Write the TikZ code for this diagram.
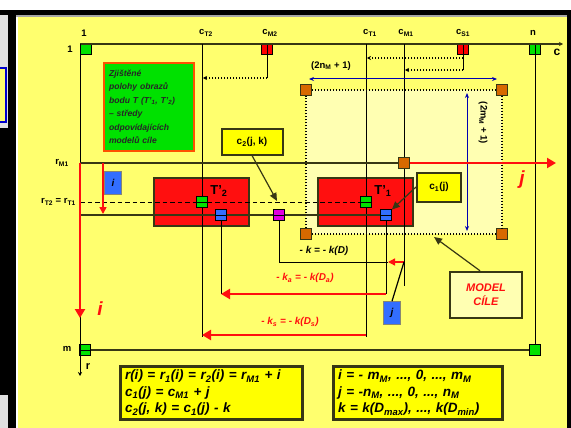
\documentclass[tikz,border=0pt]{standalone}
\usepackage{fontspec}
\setmainfont{Liberation Sans}
\usetikzlibrary{arrows.meta}
\definecolor{panel}{RGB}{255,255,110}
\definecolor{pale}{RGB}{255,255,178}
\definecolor{boxyel}{RGB}{255,255,0}
\definecolor{dark}{RGB}{55,55,20}
\definecolor{grn}{RGB}{0,225,0}
\definecolor{blu}{RGB}{50,110,255}
\definecolor{org}{RGB}{215,105,0}
\definecolor{mag}{RGB}{225,0,225}
\definecolor{redc}{RGB}{255,15,15}
\definecolor{rim}{RGB}{255,80,0}
\begin{document}
\begin{tikzpicture}[x=1pt,y=-1pt,
  axis/.style={line width=1.7pt,draw=dark},
  gridline/.style={line width=.9pt,draw=black},
  dashline/.style={line width=1pt,dash pattern=on 4.5pt off 3pt},
  dotline/.style={line width=1.1pt,dash pattern=on 1.2pt off 1.8pt},
  dotarrow/.style={dotline,-{Stealth[length=4pt,width=4pt]}},
  bluearrow/.style={line width=1pt,draw=blue!70!black,{Stealth[length=5pt,width=4pt]}-{Stealth[length=5pt,width=4pt]}},
  redarrow/.style={line width=2.6pt,draw=redc,-{Triangle[length=9pt,width=10pt]}},
  pointer/.style={line width=1.2pt,draw=dark,-{Triangle[length=8pt,width=7pt]}},
  cell/.style={draw=black,line width=.7pt,minimum size=11pt,inner sep=0pt},
  okcell/.style={cell,fill=grn},
  vcell/.style={path picture={\draw[line width=.7pt] (path picture bounding box.north) -- (path picture bounding box.south);}},
  hcell/.style={path picture={\draw[line width=.7pt] (path picture bounding box.west) -- (path picture bounding box.east);}},
  gcell/.style={vcell,hcell},
  cornercell/.style={cell,fill=org,draw=dark},
  target/.style={draw=dark,fill=redc,line width=1.3pt,minimum width=95pt,minimum height=48pt},
  lbl/.style={font=\bfseries\fontsize{9.5}{11}\selectfont,inner sep=1pt},
  redlbl/.style={text=redc,font=\bfseries\itshape\fontsize{10}{12}\selectfont,inner sep=1pt},
  bigred/.style={text=redc,font=\bfseries\itshape\fontsize{19}{20}\selectfont,inner sep=0pt},
  tag/.style={draw=dark,fill=boxyel,line width=2pt,inner sep=2pt,
    font=\bfseries\fontsize{10}{12}\selectfont},
  bluetag/.style={draw=dark!60,fill=blu,line width=.6pt,minimum width=17pt,minimum height=23pt,
    inner sep=0pt,font=\bfseries\itshape\fontsize{10}{12}\selectfont},
  formula/.style={draw=dark,fill=boxyel,line width=3pt,align=left,inner xsep=5pt,inner ysep=4pt,
    font=\bfseries\itshape\fontsize{13.5}{16.5}\selectfont}]
\useasboundingbox (0,0) rectangle (571,428);
\fill[white] (0,0) rectangle (571,428);
\fill[black!12] (0,12) rectangle (8,428);
\fill[black] (0,128) rectangle (8,395);
\fill[black] (8,12) rectangle (16,428);
\fill[panel,draw=blue!80!black,line width=1.2pt] (-3,68) rectangle (6,122);
\fill[black] (0,10) rectangle (571,15);
\fill[black!35] (16,15) rectangle (571,17);
\fill[panel] (18,17) rectangle (567,428);
\fill[black] (567,12) rectangle (571,428);

\node[okcell] (q11) at (86,49) {};
\node[cell,fill=red,vcell] (qM2) at (267,49) {};
\node[cell,fill=red,vcell] (qS1) at (463,49) {};
\node[okcell,vcell] (q1n) at (535,49) {};
\node[okcell,hcell] (qm1) at (85,350) {};
\node[okcell] (qmn) at (535,350) {};

\fill[pale] (306,90) rectangle (502,234);
\node[cornercell] (qTL) at (306,90) {};
\node[cornercell] (qTR) at (502,90) {};
\node[cornercell] (qBL) at (306,234) {};
\node[cornercell] (qBR) at (502,234) {};
\draw[dotline] (qTL) -- (qTR);
\draw[dotline] (qTR) -- (qBR);
\draw[dotline] (qBR) -- (qBL);
\draw[dotline] (qBL) -- (qTL);

\node[target] (T2box) at (201.5,202) {};
\node[target] (T1box) at (365.5,202) {};

\node[cornercell] (qM1) at (404,163) {};
\node[okcell,hcell] (qT2) at (202,202) {};
\node[okcell,hcell] (qT1) at (366,202) {};
\node[cell,fill=blu,gcell] (qB2) at (221,215) {};
\node[cell,fill=blu,gcell] (qB1) at (386,215) {};
\node[cell,fill=mag,gcell] (qk) at (279,215) {};

\node[lbl] (n1c) at (84,33) {1};
\node[lbl] (n1r) at (70,49) {1};
\node[lbl] (ncT2) at (206,33) {c\textsubscript{T2}};
\node[lbl] (ncM2) at (270,33) {c\textsubscript{M2}};
\node[lbl] (ncT1) at (370,33) {c\textsubscript{T1}};
\node[lbl] (ncM1) at (406,33) {c\textsubscript{M1}};
\node[lbl] (ncS1) at (463,33) {c\textsubscript{S1}};
\node[lbl] (nn) at (533,33) {n};
\node[lbl,font=\bfseries\fontsize{12}{12}\selectfont] (nc) at (557,52) {c};
\node[lbl] (nrM1) at (62,163) {r\textsubscript{M1}};
\node[lbl,anchor=east] (nrT) at (77,202) {r\textsubscript{T2} = r\textsubscript{T1}};
\node[lbl] (nm) at (67,349) {m};
\node[lbl,font=\bfseries\fontsize{11}{12}\selectfont] (nr) at (88,367) {r};
\node[lbl,font=\bfseries\fontsize{13}{14}\selectfont] (nT2) at (219,191) {T'\textsubscript{2}};
\node[lbl,font=\bfseries\fontsize{13}{14}\selectfont] (nT1) at (383,191) {T'\textsubscript{1}};

\coordinate (o) at (80,44);
\coordinate (cEnd) at (563,44);
\coordinate (rEnd) at (80,376);
\draw[axis,-{Stealth[length=4pt,width=4pt]}] (o) -- (cEnd);
\draw[gridline,-{Stealth[length=4pt,width=4pt]}] (o) -- (rEnd);
\draw[gridline] (q1n) -- (qmn);
\draw[axis] (qm1) -- (qmn);

\coordinate (cT2top) at (202,44);
\coordinate (cT2bot) at (202,337);
\coordinate (cT1top) at (366,44);
\coordinate (cT1bot) at (366,337);
\coordinate (cM1top) at (404,44);
\coordinate (cM1bot) at (404,286);
\draw[gridline] (cT2top) -- (qT2);
\draw[gridline] (qT2) -- (cT2bot);
\draw[gridline] (cT1top) -- (qT1);
\draw[gridline] (qT1) -- (cT1bot);
\draw[gridline] (cM1top) -- (qM1);
\draw[gridline] (qM1) -- (cM1bot);

\coordinate (cM2b) at (267,78);
\coordinate (cT2m) at (203,78);
\draw[gridline] (qM2) -- (cM2b);
\draw[dotarrow] (cM2b) -- (cT2m);
\coordinate (cS1a) at (463,58);
\coordinate (cT1m) at (367,58);
\coordinate (cS1b) at (463,70);
\coordinate (cM1m) at (405,70);
\draw[gridline] (qS1) -- (cS1b);
\draw[dotarrow] (cS1a) -- (cT1m);
\draw[dotarrow] (cS1b) -- (cM1m);

\coordinate (nL) at (309,79);
\coordinate (nR) at (497,79);
\draw[bluearrow] (nL) -- (nR);
\node[lbl] (nlab) at (331,66) {(2n\textsubscript{M} + 1)};
\coordinate (mT) at (467,93);
\coordinate (mB) at (467,231);
\draw[bluearrow] (mT) -- (mB);
\node[lbl,rotate=-90] (mlab) at (483,123) {(2m\textsubscript{M} + 1)};

\coordinate (rM1) at (80,163);
\coordinate (rT) at (80,202);
\coordinate (r2) at (80,215);
\draw[axis] (rM1) -- (qM1);
\draw[dashline] (rT) -- (qT2);
\draw[dashline] (qT2) -- (qT1);
\draw[axis] (r2) -- (qB2);
\draw[axis] (qB2) -- (qk);
\draw[axis] (qk) -- (qB1);

\coordinate (iEnd) at (80,318);
\draw[redarrow] (rM1) -- (iEnd);
\node[bigred] (ilab) at (100,309) {i};
\coordinate (iTop) at (103,163);
\coordinate (iBot) at (103,214);
\draw[redarrow,line width=1.6pt,-{Triangle[length=7pt,width=7pt]}] (iTop) -- (iBot);
\node[bluetag] (itag) at (113,183) {i};
\coordinate (jEnd) at (556,163);
\draw[redarrow] (qM1) -- (jEnd);
\node[bigred] (jlab) at (522,180) {j};

\coordinate (b2bot) at (221,294);
\coordinate (b1bot) at (386,294);
\draw[gridline] (qB2) -- (b2bot);
\draw[gridline] (qB1) -- (b1bot);
\draw[redarrow] (b1bot) -- (b2bot);
\node[redlbl] (kalab) at (305,278) {- k\textsubscript{a} = - k(D\textsubscript{a})};
\coordinate (ksR) at (366,335);
\coordinate (ksL) at (202,335);
\draw[redarrow] (ksR) -- (ksL);
\node[redlbl] (kslab) at (290,322) {- k\textsubscript{s} = - k(D\textsubscript{s})};

\coordinate (kEnd) at (388,262);
\coordinate (kR) at (404,262);
\draw[gridline] (qk) |- (kEnd);
\draw[line width=1.4pt,draw=redc,-{Triangle[length=7pt,width=7pt]}] (kR) -- (kEnd);
\node[lbl,font=\bfseries\itshape\fontsize{10}{12}\selectfont] (klab) at (324,251) {- k = - k(D)};
\node[bluetag] (jtag) at (392,313) {j};
\draw[line width=1.2pt] (jtag.north) -- (kR);

\node[tag,minimum width=61pt,minimum height=25pt] (c2tag) at (252,142) {c\textsubscript{2}(j, k)};
\coordinate (kPt) at (277,201);
\draw[pointer] (c2tag.south) -- (kPt);
\node[tag,minimum width=44pt,minimum height=29pt] (c1tag) at (439,187) {c\textsubscript{1}(j)};
\draw[pointer] (c1tag.west) -- (qB1);

\node[draw=dark,fill=pale,line width=2.5pt,minimum width=72pt,minimum height=46pt,align=center,
  text=redc,font=\bfseries\itshape\fontsize{11}{14}\selectfont] (model) at (486,295) {MODEL\\CÍLE};
\coordinate (mPt) at (434,237);
\draw[pointer] ([xshift=-6pt]model.north) -- (mPt);

\node[draw=rim,fill=grn,line width=2.5pt,minimum height=88pt,text width=80pt,inner xsep=5pt,align=left,
  text=black!85,font=\bfseries\itshape\fontsize{8.6}{13.5}\selectfont] (note) at (149,107)
  {Zjištěné\\polohy obrazů\\bodu T (T'\textsubscript{1}, T'\textsubscript{2})\\– středy\\odpovídajících\\modelů cíle};

\node[formula,text width=172pt] (eqs1) at (211,393)
  {r(i) = r\textsubscript{1}(i) = r\textsubscript{2}(i) = r\textsubscript{M1} + i\\c\textsubscript{1}(j) = c\textsubscript{M1} + j\\c\textsubscript{2}(j, k) = c\textsubscript{1}(j) - k};
\node[formula,text width=159pt] (eqs2) at (417.5,393)
  {i = - m\textsubscript{M}, ..., 0, ..., m\textsubscript{M}\\j = -n\textsubscript{M}, ..., 0, ..., n\textsubscript{M}\\k = k(D\textsubscript{max}), ..., k(D\textsubscript{min})};
\end{tikzpicture}
\end{document}
